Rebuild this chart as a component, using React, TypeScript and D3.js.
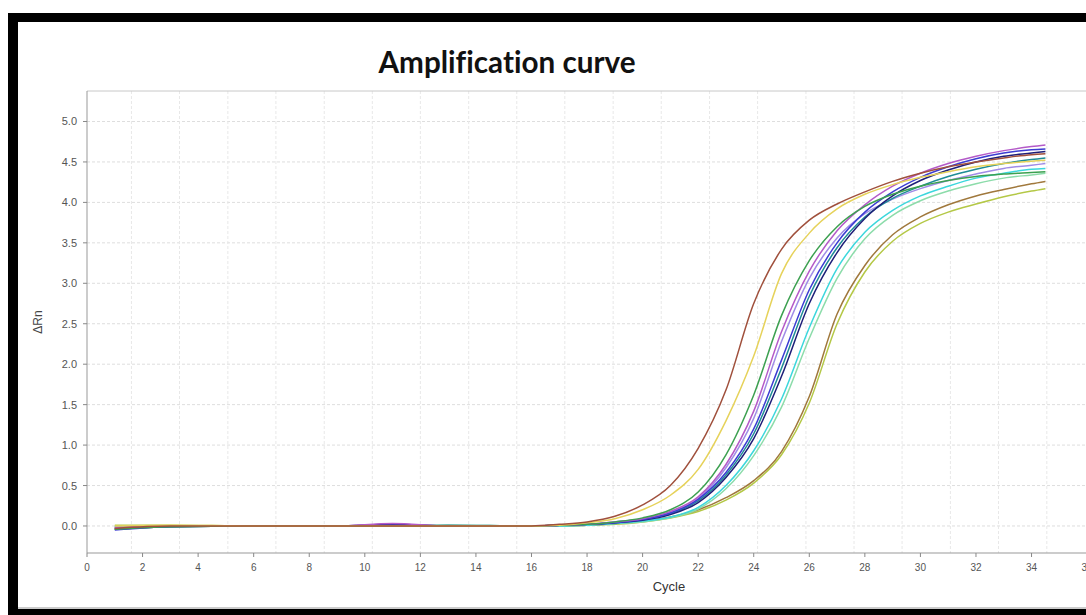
import * as d3 from "d3";

const cycles = [1, 3, 6, 9, 11, 13, 16, 17, 18, 19, 20, 21, 22, 23, 24, 25, 26, 27, 28, 29, 30, 31, 32, 33, 34, 34.5];

// ΔRn per well, same order as cycles
const wellA = [-0.03, 0.0, 0.0, 0.0, 0.0, 0.0, 0.0, 0.02, 0.05, 0.12, 0.26, 0.5, 0.96, 1.68, 2.75, 3.42, 3.78, 3.98, 4.13, 4.26, 4.36, 4.44, 4.5, 4.55, 4.59, 4.6];
const wellB = [0.0, 0.01, 0.0, 0.0, 0.0, 0.0, 0.0, 0.01, 0.04, 0.09, 0.2, 0.38, 0.7, 1.3, 2.1, 3.12, 3.62, 3.92, 4.1, 4.22, 4.31, 4.38, 4.44, 4.48, 4.51, 4.52];
const wellC = [-0.04, -0.01, 0.0, 0.0, 0.0, 0.0, 0.0, 0.01, 0.02, 0.05, 0.1, 0.2, 0.42, 0.88, 1.62, 2.6, 3.28, 3.7, 3.95, 4.1, 4.2, 4.27, 4.32, 4.35, 4.37, 4.38];
const wellD = [-0.02, 0.0, 0.0, 0.0, 0.03, 0.0, 0.0, 0.01, 0.02, 0.05, 0.09, 0.18, 0.36, 0.76, 1.42, 2.4, 3.15, 3.65, 3.97, 4.2, 4.36, 4.48, 4.57, 4.64, 4.69, 4.71];
const wellE = [-0.05, -0.01, 0.0, 0.0, 0.01, 0.0, 0.0, 0.01, 0.02, 0.04, 0.08, 0.16, 0.33, 0.66, 1.2, 2.05, 2.92, 3.5, 3.88, 4.13, 4.31, 4.44, 4.54, 4.61, 4.65, 4.66];
const wellF = [-0.03, 0.0, 0.0, 0.0, 0.02, 0.0, 0.0, 0.01, 0.02, 0.04, 0.07, 0.14, 0.29, 0.6, 1.08, 1.85, 2.75, 3.38, 3.8, 4.08, 4.27, 4.4, 4.5, 4.57, 4.61, 4.63];
const wellG = [-0.04, -0.01, 0.0, 0.0, 0.0, 0.01, 0.0, 0.01, 0.02, 0.04, 0.08, 0.15, 0.31, 0.63, 1.14, 1.95, 2.84, 3.44, 3.82, 4.05, 4.2, 4.32, 4.41, 4.48, 4.53, 4.55];
const wellH = [-0.02, 0.0, 0.0, 0.0, 0.02, 0.0, 0.0, 0.01, 0.02, 0.05, 0.09, 0.17, 0.34, 0.72, 1.33, 2.28, 3.06, 3.56, 3.86, 4.04, 4.17, 4.27, 4.35, 4.42, 4.46, 4.48];
const wellJ = [-0.01, 0.0, 0.0, 0.0, 0.0, 0.0, 0.0, 0.0, 0.01, 0.03, 0.06, 0.11, 0.23, 0.5, 0.93, 1.57, 2.45, 3.18, 3.63, 3.9, 4.08, 4.2, 4.3, 4.36, 4.41, 4.42];
const wellK = [-0.02, 0.0, 0.0, 0.0, 0.0, 0.01, 0.0, 0.0, 0.01, 0.03, 0.05, 0.1, 0.21, 0.46, 0.87, 1.47, 2.32, 3.06, 3.55, 3.84, 4.02, 4.14, 4.23, 4.3, 4.34, 4.36];
const wellL = [-0.04, -0.01, 0.0, 0.0, 0.0, 0.0, 0.0, 0.0, 0.01, 0.03, 0.06, 0.11, 0.2, 0.35, 0.56, 0.92, 1.6, 2.62, 3.22, 3.6, 3.82, 3.97, 4.08, 4.16, 4.23, 4.26];
const wellM = [0.01, 0.01, 0.0, 0.0, 0.0, 0.0, 0.0, 0.0, 0.01, 0.02, 0.05, 0.1, 0.18, 0.32, 0.53, 0.88, 1.52, 2.5, 3.14, 3.52, 3.74, 3.88, 3.98, 4.07, 4.14, 4.17];

const wells = [wellM, wellL, wellK, wellJ, wellH, wellG, wellF, wellE, wellD, wellC, wellB, wellA];
const wellColors = ["#b4c846", "#a0783c", "#8cdcaa", "#3cd7dc", "#a08ce6", "#1e8c96", "#1e1e78", "#3c3cd2", "#b45ac8", "#3ca050", "#e6d25a", "#a0503c"];

const yTicks = [0, 0.5, 1, 1.5, 2, 2.5, 3, 3.5, 4, 4.5, 5];
const xTicks = [0, 2, 4, 6, 8, 10, 12, 14, 16, 18, 20, 22, 24, 26, 28, 30, 32, 34, 36];
// the instrument's vertical grid does not sit on the ticks
const gridCycles = [1.6, 3.33, 5.07, 6.8, 8.54, 10.27, 12.0, 13.74, 15.47, 17.2, 18.94, 20.67, 22.41, 24.14, 25.88, 27.61, 29.34, 31.08, 32.81, 34.55, 36.28];

const W = 1086;
const H = 615;
const left = 87, top = 91, bottom = 553, right = 1251;

export default function App() {
  const x = d3.scaleLinear().domain([0, 41.9]).range([left, right]);
  const y = d3.scaleLinear().domain([-0.334, 5.377]).range([bottom, top]);

  const line = d3.line<number>()
    .x((_, i) => x(cycles[i]))
    .y((d) => y(d))
    .curve(d3.curveMonotoneX);

  const axisFont = "'Liberation Sans', Arial, sans-serif";

  return (
    <div style={{ position: "fixed", left: 0, top: 0, width: W, height: H, overflow: "hidden", background: "#fff" }}>
      <svg width={W} height={H} style={{ display: "block" }}>
        <rect x={0} y={0} width={W} height={H} fill="#fff" />

        {/* black frame, right side is cropped off */}
        <rect x={8} y={13} width={W} height={9} fill="#000" />
        <rect x={8} y={13} width={10} height={H} fill="#000" />
        <rect x={8} y={609} width={W} height={8} fill="#000" />
        <line x1={18} x2={W} y1={608} y2={608} stroke="#999" strokeWidth={1} />

        <text
          x={507}
          y={73}
          textAnchor="middle"
          fontFamily="Lato, 'Open Sans', sans-serif"
          fontWeight={700}
          fontSize={30}
          textLength={257}
          lengthAdjust="spacingAndGlyphs"
          fill="#111"
          style={{ fontVariantLigatures: "none" }}
        >
          Amplification curve
        </text>

        <defs>
          <clipPath id="plot">
            <rect x={left} y={top} width={right - left} height={bottom - top} />
          </clipPath>
        </defs>

        {/* grid */}
        <g stroke="#dedede" strokeWidth={1} strokeDasharray="3,2">
          {yTicks.map((t) => (
            <line key={"h" + t} x1={left} x2={right} y1={y(t)} y2={y(t)} />
          ))}
          {gridCycles.map((c) => (
            <line key={"v" + c} x1={x(c)} x2={x(c)} y1={top} y2={bottom} stroke="#e8e8e8" />
          ))}
        </g>

        {/* plot border + axes */}
        <line x1={left} x2={right} y1={top} y2={top} stroke="#c8c8c8" />
        <line x1={left} x2={left} y1={top} y2={bottom} stroke="#999" />
        <line x1={left} x2={right} y1={bottom} y2={bottom} stroke="#999" />

        {yTicks.map((t) => (
          <g key={"yt" + t}>
            <line x1={left - 4} x2={left} y1={y(t)} y2={y(t)} stroke="#888" />
            <text x={left - 10} y={y(t) + 4} textAnchor="end" fontFamily={axisFont} fontSize={11} fill="#555">
              {t.toFixed(1)}
            </text>
          </g>
        ))}
        {xTicks.map((t) => (
          <g key={"xt" + t}>
            <line x1={x(t)} x2={x(t)} y1={bottom} y2={bottom + 4} stroke="#888" />
            <text x={x(t)} y={bottom + 18} textAnchor="middle" fontFamily={axisFont} fontSize={10} fill="#555">
              {t}
            </text>
          </g>
        ))}

        <text x={(left + right) / 2} y={591} textAnchor="middle" fontFamily={axisFont} fontSize={13} fill="#333">
          Cycle
        </text>
        <text
          transform={`translate(42,322) rotate(-90)`}
          textAnchor="middle"
          fontFamily={axisFont}
          fontSize={12}
          fill="#444"
        >
          ΔRn
        </text>

        {/* amplification curves */}
        <g clipPath="url(#plot)" fill="none" strokeWidth={1.5} strokeLinejoin="round">
          {wells.map((w, i) => (
            <path key={i} d={line(w) ?? ""} stroke={wellColors[i]} />
          ))}
        </g>
      </svg>
    </div>
  );
}
